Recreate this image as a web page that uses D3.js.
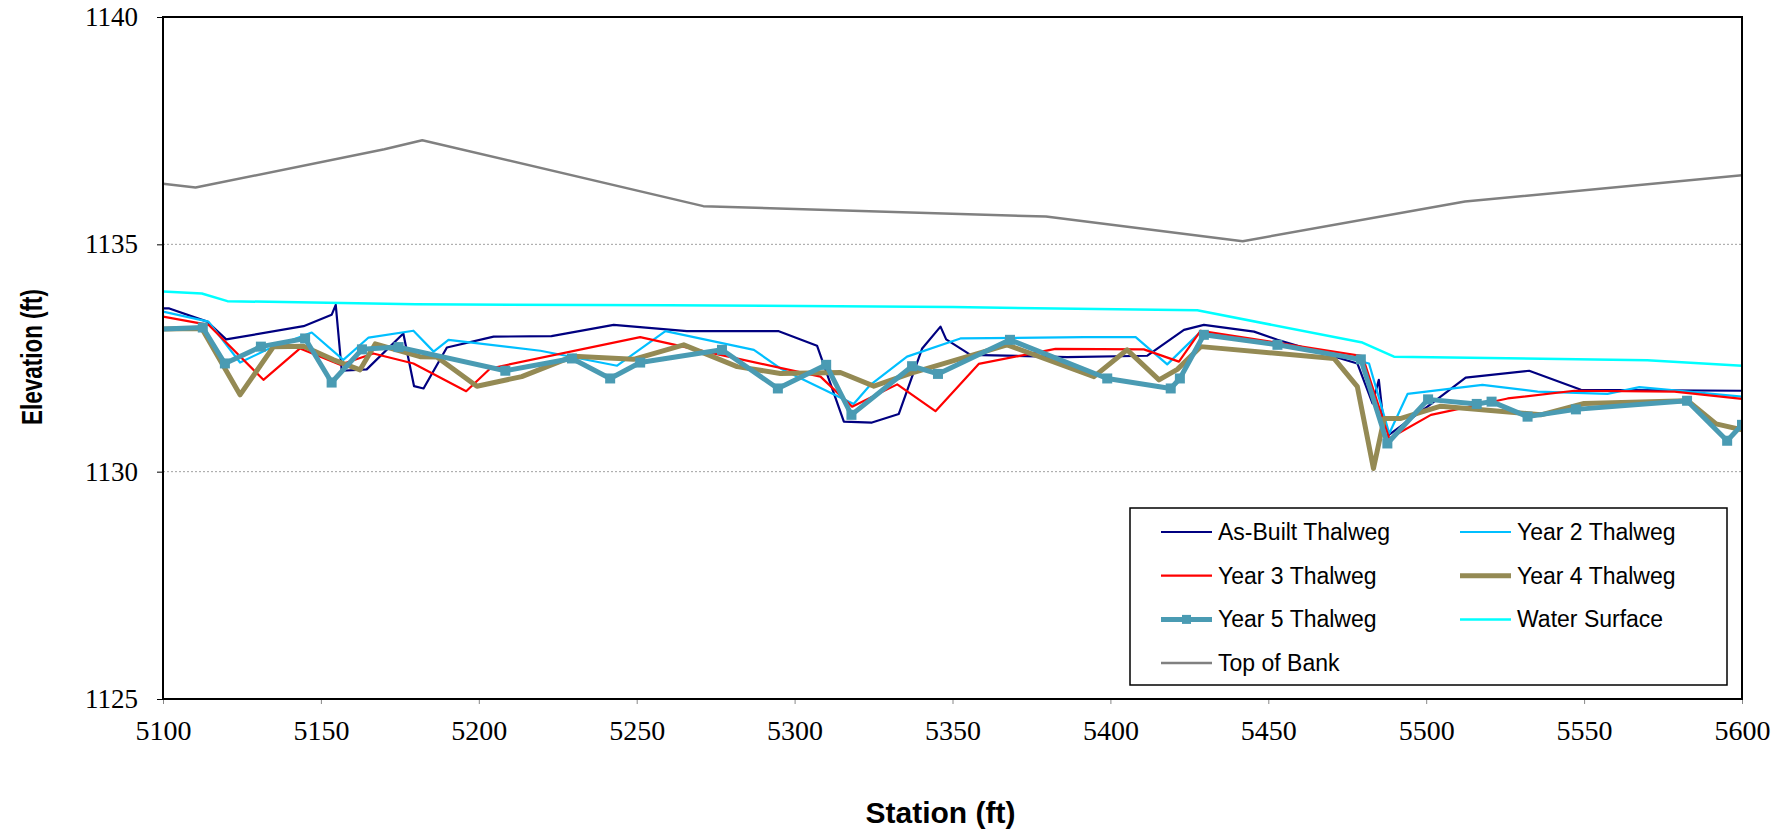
<!DOCTYPE html>
<html>
<head>
<meta charset="utf-8">
<script src="https://cdn.jsdelivr.net/npm/d3@7"></script>
<style>
  body { margin: 0; background: #fff; }
  .tick-y text { font-family: "Liberation Serif", "Times New Roman", serif; font-size: 27px; fill: #000; }
  .tick-x text { font-family: "Liberation Serif", "Times New Roman", serif; font-size: 28px; fill: #000; }
  .titulo { font-family: "Liberation Sans", Arial, sans-serif; font-weight: bold; fill: #000; }
  .leyenda text { font-family: "Liberation Sans", Arial, sans-serif; font-size: 23px; fill: #000; }
</style>
</head>
<body>
<div id="chart"></div>
<script>
// Datos: [estacion (ft), elevacion (ft)]
const asBuilt = [[5100,1133.59],[5102,1133.59],[5114,1133.30],[5120,1132.91],[5144.5,1133.20],[5153.4,1133.45],[5154.7,1133.67],[5156.6,1132.22],[5164.5,1132.25],[5176.1,1133.04],[5179.5,1131.88],[5182.5,1131.83],[5189.9,1132.73],[5204.7,1132.97],[5223,1132.98],[5242.7,1133.23],[5265.9,1133.09],[5295,1133.09],[5307.1,1132.77],[5315.6,1131.10],[5324.5,1131.08],[5333,1131.27],[5340.4,1132.71],[5346.2,1133.19],[5348,1132.91],[5355.7,1132.57],[5386.3,1132.52],[5411.7,1132.55],[5423.3,1133.12],[5429.6,1133.23],[5445.5,1133.08],[5452.9,1132.90],[5478.2,1132.38],[5483,1131.50],[5485,1132.02],[5487,1130.75],[5500.4,1131.43],[5512.5,1132.07],[5532.6,1132.22],[5549,1131.80],[5600,1131.78]];
const year2 = [[5100,1133.52],[5114.4,1133.30],[5124.4,1132.40],[5132.8,1132.68],[5147.1,1133.06],[5157.1,1132.46],[5165.1,1132.95],[5179.3,1133.10],[5185.7,1132.64],[5190.4,1132.90],[5219.5,1132.66],[5243.8,1132.33],[5259.1,1133.09],[5287.1,1132.68],[5295.5,1132.27],[5318.7,1131.49],[5324,1131.91],[5335.6,1132.53],[5352.5,1132.93],[5391.6,1132.96],[5408,1132.96],[5418,1132.36],[5428.6,1133.08],[5451.8,1132.82],[5472.9,1132.54],[5481.9,1132.38],[5488.3,1130.84],[5494.1,1131.71],[5517.8,1131.91],[5535.3,1131.76],[5557.4,1131.71],[5567.5,1131.86],[5600,1131.65]];
const year3 = [[5100,1133.41],[5114.4,1133.23],[5131.8,1132.02],[5143.4,1132.71],[5156.1,1132.35],[5166.6,1132.60],[5179.3,1132.38],[5196,1131.77],[5203.6,1132.27],[5251.1,1132.96],[5276.5,1132.57],[5308.2,1132.09],[5318.2,1131.43],[5332.5,1131.92],[5344.6,1131.33],[5358.3,1132.37],[5382.6,1132.70],[5410.6,1132.69],[5421.7,1132.42],[5428.6,1133.10],[5479.8,1132.54],[5488.3,1130.73],[5501.5,1131.25],[5525.8,1131.61],[5546.9,1131.78],[5578.6,1131.76],[5600,1131.60]];
const year4 = [[5100,1133.14],[5112.3,1133.15],[5124.4,1131.69],[5135,1132.75],[5144.5,1132.76],[5154,1132.46],[5162.4,1132.24],[5167.2,1132.81],[5181.4,1132.53],[5186.7,1132.52],[5199.4,1131.88],[5213.6,1132.09],[5230,1132.54],[5249,1132.47],[5264.9,1132.79],[5281.8,1132.31],[5295.5,1132.16],[5314.5,1132.18],[5325.1,1131.88],[5336.7,1132.16],[5367.3,1132.79],[5394.8,1132.09],[5405.3,1132.68],[5415.4,1132.02],[5421.2,1132.25],[5428.6,1132.75],[5470.8,1132.49],[5478.2,1131.87],[5483.3,1130.07],[5486.7,1131.17],[5492,1131.17],[5504.6,1131.44],[5536.3,1131.25],[5550,1131.50],[5582.8,1131.56],[5591.8,1131.05],[5600,1130.92]];
const year5 = [[5100,1133.14],[5112.6,1133.17],[5119.6,1132.38],[5131,1132.75],[5145,1132.93],[5153.4,1131.96],[5163,1132.69],[5174.6,1132.74],[5208.4,1132.22],[5229.5,1132.49],[5241.6,1132.05],[5251.1,1132.40],[5277,1132.68],[5294.7,1131.83],[5310,1132.35],[5318,1131.25],[5337.2,1132.32],[5345.4,1132.15],[5368.2,1132.90],[5399,1132.05],[5419.1,1131.83],[5422,1132.05],[5429.6,1133.01],[5452.9,1132.79],[5479.3,1132.47],[5487.7,1130.62],[5500.6,1131.59],[5516,1131.49],[5520.7,1131.54],[5532.1,1131.21],[5547.4,1131.37],[5582.6,1131.56],[5595.3,1130.68],[5600,1131.03]];
const waterSurface = [[5100,1133.96],[5112.3,1133.92],[5120.4,1133.75],[5180,1133.68],[5260,1133.66],[5350,1133.62],[5427.5,1133.55],[5479.8,1132.84],[5489.8,1132.53],[5570,1132.45],[5600,1132.33]];
const topOfBank = [[5100,1136.33],[5110.3,1136.25],[5170.1,1137.09],[5182.1,1137.29],[5271.1,1135.84],[5379.6,1135.61],[5441.9,1135.07],[5512.3,1135.94],[5600,1136.52]];

const xTicks = [5100, 5150, 5200, 5250, 5300, 5350, 5400, 5450, 5500, 5550, 5600];
const yTicks = [1125, 1130, 1135, 1140];
const seriesNames = ["As-Built Thalweg", "Year 2 Thalweg", "Year 3 Thalweg", "Year 4 Thalweg", "Year 5 Thalweg", "Water Surface", "Top of Bank"];

// Dimensiones
const W = 1790, H = 833;
const margin = { top: 17, right: 48, bottom: 134, left: 163 };
const width = W - margin.left - margin.right;
const height = H - margin.top - margin.bottom;

const svg = d3.select("#chart").append("svg")
    .attr("width", W)
    .attr("height", H);

const g = svg.append("g")
    .attr("transform", `translate(${margin.left},${margin.top})`);

const x = d3.scaleLinear().domain([5100, 5600]).range([0, width]);
const y = d3.scaleLinear().domain([1125, 1140]).range([height, 0]);

// Lineas de rejilla
g.selectAll(".grid")
    .data(yTicks.filter(v => v > 1125 && v < 1140))
    .enter().append("line")
    .attr("x1", 0).attr("x2", width)
    .attr("y1", d => y(d)).attr("y2", d => y(d))
    .attr("stroke", "#a0a0a0")
    .attr("stroke-width", 1)
    .attr("stroke-dasharray", "2,2");

// Ejes
const ejeY = g.append("g").attr("class", "tick-y")
    .call(d3.axisLeft(y).tickValues(yTicks).tickSize(6).tickPadding(19).tickFormat(d3.format("d")));
ejeY.select(".domain").remove();

const ejeX = g.append("g").attr("class", "tick-x")
    .attr("transform", `translate(0,${height})`)
    .call(d3.axisBottom(x).tickValues(xTicks).tickSize(5).tickPadding(16).tickFormat(d3.format("d")));
ejeX.select(".domain").remove();
ejeX.selectAll("line").attr("stroke", "#888");

// Series
const clip = g.append("clipPath").attr("id", "clip")
    .append("rect").attr("width", width).attr("height", height);

const linea = d3.line().x(d => x(d[0])).y(d => y(d[1]));

const estilos = [
    { data: asBuilt, color: "#000080", w: 2.2 },
    { data: year2, color: "#00bfff", w: 2.2 },
    { data: year3, color: "#ff0000", w: 2.2 },
    { data: year4, color: "#948a54", w: 5 },
    { data: year5, color: "#4a9bb3", w: 5, marker: true },
    { data: waterSurface, color: "#00ffff", w: 2.5 },
    { data: topOfBank, color: "#808080", w: 2.5 }
];

const capa = g.append("g").attr("clip-path", "url(#clip)");
estilos.forEach(s => {
    capa.append("path")
        .datum(s.data)
        .attr("fill", "none")
        .attr("stroke", s.color)
        .attr("stroke-width", s.w)
        .attr("stroke-linejoin", "round")
        .attr("d", linea);
    if (s.marker) {
        capa.selectAll(null)
            .data(s.data.filter((d, i) => i > 0))
            .enter().append("rect")
            .attr("x", d => x(d[0]) - 5)
            .attr("y", d => y(d[1]) - 5)
            .attr("width", 10).attr("height", 10)
            .attr("fill", s.color);
    }
});

// Marco del area de trazado
g.append("rect")
    .attr("width", width).attr("height", height)
    .attr("fill", "none")
    .attr("stroke", "#000")
    .attr("stroke-width", 2);

// Titulos de ejes
svg.append("text")
    .attr("class", "titulo")
    .attr("x", margin.left + width / 2 - 12)
    .attr("y", 823)
    .attr("text-anchor", "middle")
    .style("font-size", "30px")
    .text("Station (ft)");

svg.append("text")
    .attr("class", "titulo")
    .attr("transform", "translate(42,357) rotate(-90)")
    .attr("text-anchor", "middle")
    .attr("textLength", 136)
    .attr("lengthAdjust", "spacingAndGlyphs")
    .style("font-size", "30px")
    .text("Elevation (ft)");

// Leyenda
const ley = svg.append("g").attr("class", "leyenda")
    .attr("transform", "translate(1130,508)");
ley.append("rect")
    .attr("width", 597).attr("height", 177)
    .attr("fill", "#fff")
    .attr("stroke", "#000")
    .attr("stroke-width", 1.5);

const item = ley.selectAll(".item")
    .data(estilos.map((s, i) => ({ ...s, name: seriesNames[i], i })))
    .enter().append("g")
    .attr("class", "item")
    .attr("transform", d => `translate(${d.i % 2 ? 330 : 31},${24 + Math.floor(d.i / 2) * 43.7})`);

item.append("line")
    .attr("x1", 0).attr("x2", 51)
    .attr("stroke", d => d.color)
    .attr("stroke-width", d => d.w);
item.filter(d => d.marker).append("rect")
    .attr("x", 21).attr("y", -4.5).attr("width", 9).attr("height", 9)
    .attr("fill", d => d.color);
item.append("text")
    .attr("x", 57)
    .attr("dy", "0.35em")
    .text(d => d.name);
</script>
</body>
</html>
